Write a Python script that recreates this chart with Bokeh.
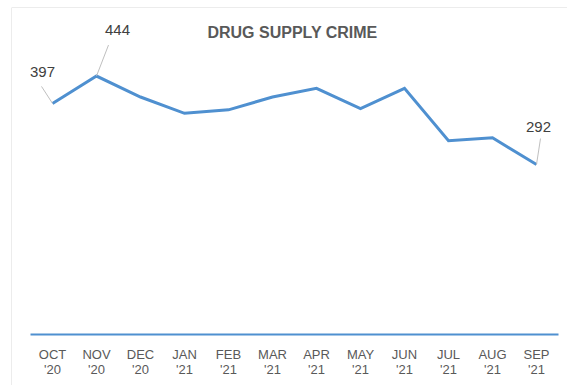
from bokeh.plotting import figure
from bokeh.models import Range1d, LinearAxis, FixedTicker, Label, Span, ColumnDataSource
from bokeh.core.properties import value
from bokeh.embed import file_html
from bokeh.resources import INLINE

# ---- data ----
months = ["OCT", "NOV", "DEC", "JAN", "FEB", "MAR", "APR", "MAY", "JUN", "JUL", "AUG", "SEP"]
years = ["'20", "'20", "'20", "'21", "'21", "'21", "'21", "'21", "'21", "'21", "'21", "'21"]
crimes = [397, 444, 408, 380, 386, 408, 423, 388, 423, 333, 338, 292]
labelled = [0, 1, 11]  # indices of points with a data label
title_text = "DRUG SUPPLY CRIME"

# ---- style ----
W, H = 567, 385
LEFT, TOP = 11, 7
FW, FH = W - LEFT, H - TOP
BLUE = "#4f90d0"
FONT = "Liberation Sans"

n = len(months)
xs = [i + 0.5 for i in range(n)]
x_start, x_end = -19 / 44, n + 9 / 44
y_per_px = 1.718
y_start, y_end = -51 * y_per_px, (334 - TOP) * y_per_px
dxpp = (x_end - x_start) / FW
dypp = (y_end - y_start) / FH

p = figure(width=W, height=H, output_backend="svg", toolbar_location=None,
           x_range=Range1d(x_start, x_end), y_range=Range1d(y_start, y_end),
           x_axis_type=None, y_axis_type=None,
           min_border_left=LEFT, min_border_top=TOP, min_border_right=0, min_border_bottom=0,
           frame_width=FW, frame_height=FH)
p.outline_line_color = None
p.xgrid.visible = False
p.ygrid.visible = False
p.background_fill_color = "white"
p.border_fill_color = "white"

# border lines (left & top)
p.add_layout(Span(location=x_start, dimension="height", line_color="#d9d9d9", line_width=1))
p.add_layout(Span(location=y_end, dimension="width", line_color="#d9d9d9", line_width=1))

# axis baseline
p.segment(x0=[0], x1=[n], y0=[0], y1=[0], line_color=BLUE, line_width=2)

# x axis with month labels
ax = LinearAxis(fixed_location=0, ticker=FixedTicker(ticks=xs))
ax.major_label_overrides = {x: f"{m}\n{y}" for x, m, y in zip(xs, months, years)}
ax.axis_line_color = None
ax.major_tick_line_color = None
ax.minor_tick_line_color = None
ax.major_label_standoff = 6
ax.major_label_text_font = FONT
ax.major_label_text_font_size = "13px"
ax.major_label_text_color = "#595959"
ax.major_label_text_line_height = 1.05
p.add_layout(ax, "below")

# series line
p.line(xs, crimes, line_color=BLUE, line_width=3, line_join="miter")

# data labels with leader lines (offsets in pixels)
lab_off = {0: (-10, 31), 1: (21, 46), 11: (2, 38)}
lead_off = {0: (-11, 17), 1: (12, 31), 11: (4, 26)}
lx = [xs[i] for i in labelled]
ly = [crimes[i] for i in labelled]
src = ColumnDataSource(dict(
    x=lx, y=ly, t=[str(crimes[i]) for i in labelled],
    xo=[lab_off[i][0] for i in labelled], yo=[-lab_off[i][1] for i in labelled],
    x1=[xs[i] + lead_off[i][0] * dxpp for i in labelled],
    y1=[crimes[i] + lead_off[i][1] * dypp for i in labelled],
))
p.segment(x0="x", y0="y", x1="x1", y1="y1", source=src, line_color="#bfbfbf", line_width=1)
p.text(x="x", y="y", text="t", x_offset="xo", y_offset="yo", source=src,
       text_font=value(FONT), text_font_size="15px", text_color="#404040",
       text_align="center", text_baseline="middle")

# title
p.add_layout(Label(x=292 - LEFT, y=H - 32, x_units="screen", y_units="screen",
                   text=title_text, text_font=FONT, text_font_size="16px",
                   text_font_style="bold", text_color="#595959",
                   text_align="center", text_baseline="middle"))

open("out.html", "w").write(file_html(p, INLINE))
